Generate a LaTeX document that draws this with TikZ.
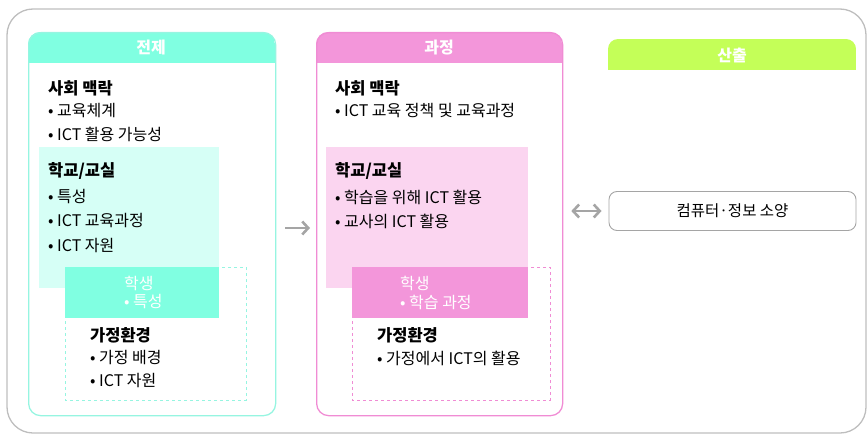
\documentclass[tikz,border=0pt]{standalone}
\usepackage{fontspec}
\setmainfont{Noto Sans CJK KR}
\usetikzlibrary{arrows.meta}
\definecolor{tealH}{RGB}{128,255,225}
\definecolor{tealL}{RGB}{214,255,246}
\definecolor{tealB}{RGB}{150,245,225}
\definecolor{pinkH}{RGB}{243,150,218}
\definecolor{pinkL}{RGB}{251,213,240}
\definecolor{pinkB}{RGB}{240,140,212}
\definecolor{greenH}{RGB}{196,255,88}
\definecolor{frameG}{RGB}{190,190,190}
\definecolor{arrG}{RGB}{165,165,165}
\tikzset{
  txt/.style={anchor=west, inner sep=0pt, font=\fontsize{16}{18}\selectfont},
  ttl/.style={txt, font=\fontsize{16.5}{18}\selectfont\bfseries},
  hdr/.style={inner sep=0pt, text=white, font=\fontsize{16}{18}\selectfont\bfseries},
  wtxt/.style={txt, text=white},
  arr/.style={draw=arrG, line width=2.6pt, -{Straight Barb[length=6pt,width=13pt]}},
  darr/.style={draw=arrG, line width=2.6pt, {Straight Barb[length=6pt,width=13pt]}-{Straight Barb[length=6pt,width=13pt]}},
}
\begin{document}
\begin{tikzpicture}[x=1pt,y=-1pt]
\useasboundingbox (0,0) rectangle (867,436);
% outer frame
\draw[frameG, line width=1.3pt, rounded corners=26pt] (7,9) rectangle (866,433);

% ===== 전제 (teal) =====
\begin{scope}
\clip[rounded corners=12pt] (28,32) rectangle (275,415);
\fill[tealH] (28,32) rectangle (275,63);
\end{scope}
\fill[tealL] (39,147) rectangle (219,288);
\draw[tealB, dashed, line width=0.8pt] (65,267) rectangle (246,400);
\fill[tealH] (65,267) rectangle (219,318);
\node[draw=tealB, line width=1.3pt, rounded corners=12pt, minimum width=247pt, minimum height=383pt, anchor=north west, inner sep=0pt] (teal) at (28,32) {};
\node[hdr] (h1) at (151,48) {전제};
\node[ttl] (t1a) at (48,88) {사회 맥락};
\node[txt] (t1b) at (48,111) {• 교육체계};
\node[txt] (t1c) at (48,134) {• ICT 활용 가능성};
\node[ttl] (t1d) at (48,171) {학교/교실};
\node[txt] (t1e) at (48,197) {• 특성};
\node[txt] (t1f) at (48,221) {• ICT 교육과정};
\node[txt] (t1g) at (48,246) {• ICT 자원};
\node[wtxt] (t1h) at (124,283) {학생};
\node[wtxt] (t1i) at (124,302) {• 특성};
\node[ttl] (t1j) at (90,335) {가정환경};
\node[txt] (t1k) at (90,358) {• 가정 배경};
\node[txt] (t1l) at (90,381) {• ICT 자원};

% ===== 과정 (pink) =====
\begin{scope}
\clip[rounded corners=12pt] (316,32) rectangle (562,415);
\fill[pinkH] (316,32) rectangle (562,63);
\end{scope}
\fill[pinkL] (326,147) rectangle (528,288);
\draw[pinkB, dashed, line width=0.8pt] (352,267) rectangle (550,400);
\fill[pinkH] (352,267) rectangle (528,318);
\node[draw=pinkB, line width=1.3pt, rounded corners=12pt, minimum width=246pt, minimum height=383pt, anchor=north west, inner sep=0pt] (pink) at (316,32) {};
\node[hdr] (h2) at (439,48) {과정};
\node[ttl] (t2a) at (335,88) {사회 맥락};
\node[txt] (t2b) at (335,111) {• ICT 교육 정책 및 교육과정};
\node[ttl] (t2c) at (335,171) {학교/교실};
\node[txt] (t2d) at (335,197) {• 학습을 위해 ICT 활용};
\node[txt] (t2e) at (335,221) {• 교사의 ICT 활용};
\node[wtxt] (t2f) at (400,283) {학생};
\node[wtxt] (t2g) at (400,302) {• 학습 과정};
\node[ttl] (t2h) at (377,335) {가정환경};
\node[txt] (t2i) at (377,358) {• 가정에서 ICT의 활용};

% ===== 산출 (green) =====
\begin{scope}
\clip[rounded corners=10pt] (608,39) rectangle (856,90);
\fill[greenH] (608,39) rectangle (856,70);
\end{scope}
\node[hdr] (h3) at (732,55) {산출};
\node[draw=arrG, line width=0.9pt, rounded corners=8pt, minimum width=247pt, minimum height=39pt, inner sep=0pt, font=\fontsize{15.5}{18}\selectfont] (out) at (732.5,211) {컴퓨터·정보 소양};

% arrows
\draw[arr, shorten <=9pt, shorten >=6pt] (teal.east |- 0,228) -- (pink.west |- 0,228);
\draw[darr, shorten <=8pt, shorten >=7pt] (pink.east |- out.west) -- (out.west);
\end{tikzpicture}
\end{document}
